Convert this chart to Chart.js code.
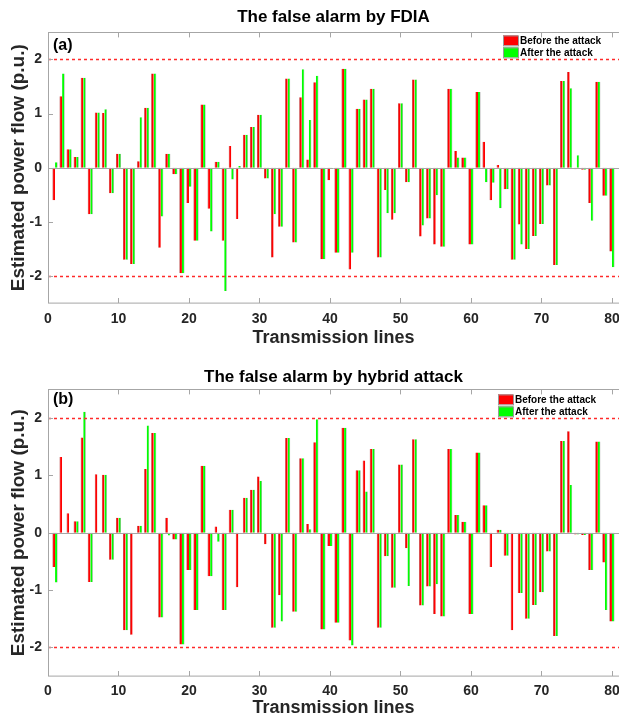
<!DOCTYPE html>
<html lang="en">
<head>
<meta charset="UTF-8">
<title>False alarm by FDIA and hybrid attack</title>
<script src="https://cdn.jsdelivr.net/npm/chart.js"></script>
<style>
  html, body { margin: 0; padding: 0; background: #fff; overflow: hidden; }
  canvas { display: block; }
</style>
</head>
<body>
<canvas id="fdiaChart" width="619" height="360"></canvas>
<canvas id="hybridChart" width="619" height="359"></canvas>
<script>
// transmission line numbers 1..80
const lineNumbers = Array.from({length: 80}, (_, i) => i + 1);

const beforeAttack = [
  -0.60, 1.32, 0.34, 0.20, 1.66, -0.86, 1.02, 1.01, -0.47, 0.26,
  -1.70, -1.78, 0.12, 1.11, 1.74, -1.48, 0.26, -0.12, -1.95, -0.65,
  -1.35, 1.17, -0.76, 0.11, -1.35, 0.40, -0.95, 0.61, 0.75, 0.98,
  -0.20, -1.66, -1.09, 1.65, -1.38, 1.30, 0.15, 1.58, -1.69, -0.23,
  -1.57, 1.83, -1.88, 1.09, 1.26, 1.46, -1.66, -0.41, -0.96, 1.19,
  -0.27, 1.63, -1.27, -0.94, -1.42, -1.46, 1.46, 0.31, 0.19, -1.42,
  1.40, 0.48, -0.60, 0.05, -0.40, -1.70, -1.05, -1.50, -1.26, -1.04,
  -0.33, -1.80, 1.60, 1.77, -0.03, -0.04, -0.65, 1.59, -0.52, -1.55
];

const afterFdia = [
  0.10, 1.74, 0.34, 0.20, 1.66, -0.86, 1.02, 1.08, -0.47, 0.26,
  -1.70, -1.78, 0.93, 1.11, 1.74, -0.90, 0.26, -0.12, -1.95, -0.35,
  -1.35, 1.17, -1.18, 0.11, -2.28, -0.22, 0.03, 0.61, 0.75, 0.98,
  -0.20, -0.86, -1.09, 1.65, -1.38, 1.82, 0.88, 1.70, -1.69, -0.01,
  -1.57, 1.83, -1.57, 1.09, 1.26, 1.46, -1.66, -0.84, -0.84, 1.19,
  -0.27, 1.63, -1.07, -0.94, -0.51, -1.46, 1.46, 0.19, 0.19, -1.42,
  1.40, -0.27, -0.28, -0.75, -0.40, -1.70, -1.42, -1.50, -1.26, -1.04,
  -0.33, -1.80, 1.60, 1.47, 0.23, -0.04, -0.98, 1.59, -0.52, -1.84
];

const afterHybrid = [
  -0.87, 0, 0, 0.20, 2.11, -0.86, 0, 1.01, -0.47, 0.26,
  -1.70, 0, 0.12, 1.87, 1.74, -1.48, -0.05, -0.12, -1.95, -0.65,
  -1.35, 1.17, -0.76, -0.16, -1.35, 0.40, 0, 0.61, 0.75, 0.90,
  0, -1.66, -1.55, 1.65, -1.38, 1.30, 0.06, 1.98, -1.69, -0.23,
  -1.57, 1.83, -1.97, 1.09, 0.72, 1.46, -1.66, -0.41, -0.96, 1.19,
  -0.93, 1.63, -1.27, -0.94, -0.90, -1.46, 1.46, 0.31, 0.19, -1.42,
  1.40, 0.48, 0, 0.05, -0.40, 0, -1.05, -1.50, -1.26, -1.04,
  -0.33, -1.80, 1.60, 0.83, -0.03, -0.04, -0.65, 1.59, -1.35, -1.55
];

const xTickValues = [0, 10, 20, 30, 40, 50, 60, 70, 80];
const yTickValues = [-2, -1, 0, 1, 2];
const xRange = [0, 81];
const yRange = [-2.5, 2.5];
const alarmLimits = [2, -2];

Chart.defaults.font.family = "'Liberation Sans', Arial, sans-serif";
Chart.defaults.font.weight = 'bold';
Chart.defaults.color = '#262626';

// box around the axes, inward ticks, zero baseline, alarm limits, panel letter and legend
const panelDecor = {
  id: 'panelDecor',
  afterDatasetsDraw(chart) {
    const {ctx, chartArea: a, scales: {y}} = chart;
    ctx.save();
    ctx.lineWidth = 1;
    const zy = Math.round(y.getPixelForValue(0)) + 0.5;
    ctx.strokeStyle = '#a6a6a6';
    ctx.beginPath();
    ctx.moveTo(a.left, zy); ctx.lineTo(a.right, zy);
    ctx.stroke();
    ctx.strokeStyle = '#ff2a2a';
    ctx.lineWidth = 1.5;
    ctx.setLineDash([3, 3]);
    alarmLimits.forEach(v => {
      const py = Math.round(y.getPixelForValue(v)) + 0.5;
      ctx.beginPath();
      ctx.moveTo(a.left, py); ctx.lineTo(a.right, py);
      ctx.stroke();
    });
    ctx.restore();
  },
  afterDraw(chart, args, opts) {
    const {ctx, chartArea: a, scales: {x, y}} = chart;
    ctx.save();
    ctx.strokeStyle = '#a6a6a6';
    ctx.lineWidth = 1;
    ctx.strokeRect(Math.round(a.left) + 0.5, Math.round(a.top) + 0.5, a.width, a.height);
    ctx.beginPath();
    x.ticks.forEach(t => {
      const px = Math.round(x.getPixelForValue(t.value)) + 0.5;
      ctx.moveTo(px, a.bottom); ctx.lineTo(px, a.bottom - 5);
      ctx.moveTo(px, a.top); ctx.lineTo(px, a.top + 5);
    });
    y.ticks.forEach(t => {
      const py = Math.round(y.getPixelForValue(t.value)) + 0.5;
      ctx.moveTo(a.left, py); ctx.lineTo(a.left + 5, py);
    });
    ctx.stroke();

    ctx.fillStyle = '#000';
    ctx.font = "bold 16px 'Liberation Sans', Arial, sans-serif";
    ctx.textBaseline = 'top';
    ctx.fillText(opts.letter, a.left + 5, a.top + opts.letterTop);

    const lx = a.right - opts.legendRight;
    chart.data.datasets.forEach((d, i) => {
      const by = a.top + opts.legendTop + i * 12;
      ctx.fillStyle = d.backgroundColor;
      ctx.fillRect(lx, by, 15, 10);
      ctx.strokeStyle = '#999';
      ctx.strokeRect(lx + 0.5, by + 0.5, 15, 10);
      ctx.fillStyle = '#000';
      ctx.font = "bold 10px 'Liberation Sans', Arial, sans-serif";
      ctx.textBaseline = 'middle';
      ctx.fillText(d.label, lx + 17, by + 5.5);
    });
    ctx.restore();
  }
};

function makePanel(id, titleText, afterValues, p) {
  const ctx = document.getElementById(id).getContext('2d');
  return new Chart(ctx, {
    type: 'bar',
    data: {
      datasets: [
        {
          label: 'Before the attack',
          data: lineNumbers.map((n, i) => ({x: n, y: beforeAttack[i]})),
          backgroundColor: '#ff0000',
          borderColor: '#a00000',
          borderWidth: {left: 0.6, right: 0, top: 0, bottom: 0}
        },
        {
          label: 'After the attack',
          data: lineNumbers.map((n, i) => ({x: n, y: afterValues[i]})),
          backgroundColor: '#00ff00',
          borderColor: '#8a8a8a',
          borderWidth: {left: 0, right: 0.6, top: 0, bottom: 0}
        }
      ]
    },
    options: {
      responsive: false,
      animation: false,
      categoryPercentage: 0.72,
      barPercentage: 1.0,
      layout: {padding: 0},
      plugins: {
        legend: {display: false},
        tooltip: {enabled: false},
        title: {
          display: true,
          text: titleText,
          fullSize: false,
          color: '#000',
          font: {size: 17, weight: 'bold'},
          padding: {top: p.titleTop, bottom: p.titleBottom}
        },
        panelDecor: {letter: p.letter, letterTop: p.letterTop, legendRight: p.legendRight, legendTop: p.legendTop}
      },
      scales: {
        x: {
          type: 'linear',
          offset: false,
          min: xRange[0],
          max: xRange[1],
          afterBuildTicks: s => { s.ticks = xTickValues.map(v => ({value: v})); },
          afterFit: s => { s.height = p.xHeight; s.paddingRight = 0; s.paddingLeft = 0; },
          grid: {display: false, drawTicks: false, offset: false},
          border: {display: false},
          ticks: {padding: p.xTickPad, font: {size: 14, weight: 'bold'}, color: '#262626'},
          title: {
            display: true,
            text: 'Transmission lines',
            color: '#262626',
            font: {size: 18, weight: 'bold'},
            padding: {top: 0, bottom: p.xTitleBottom}
          }
        },
        y: {
          min: yRange[0],
          max: yRange[1],
          afterBuildTicks: s => { s.ticks = yTickValues.map(v => ({value: v})); },
          afterFit: s => { s.width = 48; },
          grid: {display: false, drawTicks: false},
          border: {display: false},
          ticks: {padding: 6, font: {size: 14, weight: 'bold'}, color: '#262626'},
          title: {
            display: true,
            text: 'Estimated power flow (p.u.)',
            color: '#262626',
            font: {size: 19, weight: 'bold'},
            padding: {top: 7, bottom: 0}
          }
        }
      }
    },
    plugins: [panelDecor]
  });
}

makePanel('fdiaChart', 'The false alarm by FDIA', afterFdia, {
  letter: '(a)', letterTop: 5, legendRight: 116, legendTop: 3,
  titleTop: 7, titleBottom: 5, xHeight: 57, xTickPad: 8, xTitleBottom: 11
});
makePanel('hybridChart', 'The false alarm by hybrid attack', afterHybrid, {
  letter: '(b)', letterTop: 2, legendRight: 121, legendTop: 5,
  titleTop: 7, titleBottom: 2, xHeight: 43, xTickPad: 7, xTitleBottom: 0
});
</script>
</body>
</html>
